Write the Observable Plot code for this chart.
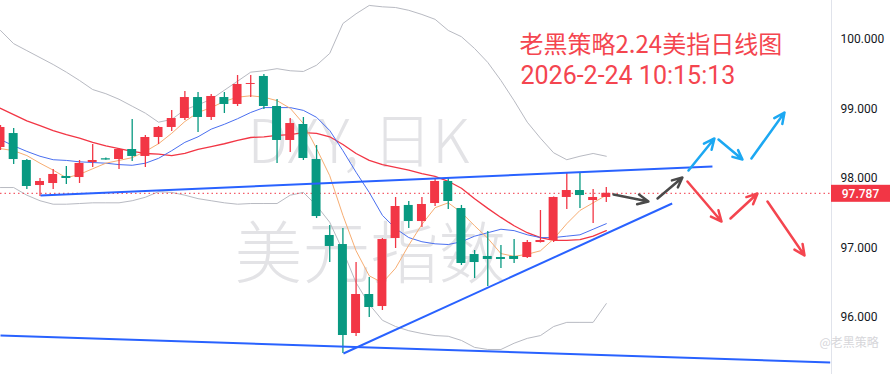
<!DOCTYPE html>
<html><head><meta charset="utf-8">
<script src="https://cdn.jsdelivr.net/npm/d3@7"></script>
<script src="https://cdn.jsdelivr.net/npm/@observablehq/plot@0.6"></script>
<style>body{margin:0;background:#fff}#chart svg{display:block}</style>
</head><body><div id="chart"></div>
<script>
// ---- candle data (daily, index 0..46) ----
const opens  = [98.446,98.647,98.259,97.899,97.928,98.029,98.014,98.230,98.284,98.273,98.417,98.317,98.590,98.734,98.863,99.165,98.878,99.165,99.065,99.353,99.468,99.036,98.547,98.777,98.273,97.180,97.050,95.770,96.331,96.158,97.137,97.612,97.381,97.640,97.957,97.568,96.906,96.878,96.863,96.878,96.863,97.079,97.108,97.727,97.827,97.683,97.727];
const highs  = [98.763,98.719,98.273,98.000,98.129,98.173,98.259,98.489,98.295,98.432,98.849,98.619,98.748,98.978,99.252,99.237,99.209,99.237,99.482,99.482,99.496,99.137,98.863,98.878,98.475,97.324,97.281,96.791,96.576,97.137,97.727,97.669,97.727,97.986,98.000,97.612,96.964,97.237,97.036,97.122,97.108,97.540,97.734,98.072,98.072,97.842,97.871];
const lows   = [98.403,98.201,97.842,97.741,97.842,97.914,97.928,98.158,98.262,98.129,98.245,98.158,98.489,98.676,98.835,98.662,98.835,98.935,99.036,99.165,98.993,98.216,98.374,98.259,97.424,96.791,95.482,95.727,96.000,96.101,96.993,97.281,97.295,97.597,97.554,96.748,96.561,96.446,96.705,96.777,96.849,97.072,97.079,97.554,97.568,97.353,97.655];
const closes = [98.734,98.273,97.885,97.957,98.058,98.000,98.216,98.259,98.266,98.417,98.317,98.590,98.734,98.863,99.165,98.878,99.180,99.065,99.353,99.367,99.036,98.547,98.791,98.288,97.453,97.022,95.741,96.331,96.144,97.122,97.597,97.381,97.626,97.957,97.669,96.777,96.791,96.835,96.835,96.835,97.079,97.108,97.727,97.827,97.755,97.727,97.787];

// ---- indicator lines ----
const bollUpper = [100.13,99.94,99.84,99.74,99.64,99.53,99.41,99.28,99.22,99.14,99.04,98.94,98.81,98.85,98.99,99.06,99.14,99.27,99.40,99.53,99.55,99.58,99.55,99.54,99.63,99.80,100.23,100.37,100.49,100.47,100.46,100.42,100.36,100.29,100.13,100.04,99.87,99.67,99.41,99.12,98.81,98.58,98.37,98.27,98.32,98.36,98.32];
const bollLower = [97.87,97.87,97.76,97.68,97.63,97.63,97.64,97.65,97.65,97.65,97.68,97.73,97.81,97.80,97.76,97.71,97.68,97.65,97.63,97.64,97.64,97.64,97.76,97.80,97.61,97.37,96.96,96.50,96.19,95.96,95.87,95.81,95.77,95.74,95.73,95.67,95.57,95.54,95.54,95.63,95.70,95.74,95.87,95.93,95.93,95.93,96.20];
const maRed    = [99.01,98.92,98.83,98.76,98.69,98.63,98.58,98.52,98.47,98.43,98.39,98.36,98.35,98.33,98.36,98.42,98.46,98.50,98.55,98.59,98.60,98.62,98.63,98.66,98.65,98.60,98.49,98.36,98.26,98.20,98.16,98.12,98.07,98.03,97.96,97.86,97.71,97.57,97.44,97.32,97.22,97.15,97.11,97.11,97.12,97.17,97.25];
const maBlue   = [98.56,98.47,98.39,98.32,98.27,98.26,98.24,98.23,98.22,98.20,98.19,98.22,98.29,98.40,98.52,98.60,98.71,98.78,98.86,98.95,99.02,99.02,99.02,98.98,98.88,98.69,98.40,98.09,97.80,97.47,97.28,97.15,97.09,97.06,97.05,97.09,97.17,97.22,97.27,97.25,97.19,97.15,97.15,97.17,97.19,97.27,97.35];
const maOrange = [98.43,98.40,98.33,98.22,98.12,98.01,98.06,98.14,98.22,98.26,98.30,98.39,98.50,98.65,98.82,98.95,99.02,99.11,99.17,99.19,99.17,99.12,99.01,98.79,98.43,98.04,97.47,96.96,96.60,96.50,96.71,97.04,97.34,97.58,97.65,97.51,97.32,97.14,96.92,96.88,96.91,96.96,97.13,97.35,97.54,97.65,97.76];

// ---- drawn trend lines & arrows (x = candle index, y = price) ----
const trendLines = [
  {x1: 3.04, y1: 97.755, x2: 54.06, y2: 98.173},
  {x1: 26.04, y1: 95.482, x2: 51.0, y2: 97.640},
  {x1: 0, y1: 95.741, x2: 63.0, y2: 95.353}
];
const grayArrows = [
  {x1: 46.55, y1: 97.770, x2: 49.20, y2: 97.669},
  {x1: 49.89, y1: 97.712, x2: 51.78, y2: 98.014}
];
const blueArrows = [
  {x1: 52.24, y1: 98.115, x2: 54.21, y2: 98.576},
  {x1: 54.52, y1: 98.561, x2: 56.34, y2: 98.273},
  {x1: 57.02, y1: 98.288, x2: 59.53, y2: 98.950}
];
const redArrows = [
  {x1: 52.16, y1: 97.957, x2: 54.75, y2: 97.381},
  {x1: 55.43, y1: 97.424, x2: 57.48, y2: 97.784},
  {x1: 58.24, y1: 97.669, x2: 61.05, y2: 96.892}
];

// ---- texts / ticks ----
const yTicks = [96, 97, 98, 99, 100];
const titleLine1 = "老黑策略2.24美指日线图";
const titleLine2 = "2026-2-24 10:15:13";
const watermark1 = "DXY, 日K";
const watermark2 = "美元指数";
const signature = "@老黑策略";

const xMax = 63.1;
const yDomain = [95.180, 100.561];
const upColor = "#f23645", downColor = "#089981";

const candles = opens.map((o, i) => ({i, open: o, high: highs[i], low: lows[i], close: closes[i]}));
const up = candles.filter(d => d.close >= d.open);
const down = candles.filter(d => d.close < d.open);
const lastClose = closes[closes.length - 1];
const half = 0.34;

function priceTag(index, scales, values, dims) {
  const y = scales.y(lastClose);
  const x0 = dims.width - dims.marginRight;
  const g = d3.create("svg:g");
  g.append("rect").attr("x", x0).attr("y", y - 8).attr("width", dims.marginRight).attr("height", 17).attr("fill", upColor);
  g.append("text").attr("x", x0 + dims.marginRight / 2).attr("y", y + 0.5).attr("dy", "0.35em")
    .attr("text-anchor", "middle").attr("fill", "#fff").attr("font-size", 12).attr("font-weight", 500)
    .attr("font-family", "Roboto, sans-serif").text(lastClose.toFixed(3));
  return g.node();
}

const lineOpts = (stroke, w) => ({x: (d, i) => i, y: d => d, stroke, strokeWidth: w, clip: true});

const chart = Plot.plot({
  width: 890, height: 374,
  marginLeft: 0, marginRight: 59, marginTop: 0, marginBottom: 0,
  x: {domain: [0, xMax], axis: null},
  y: {domain: yDomain, axis: null},
  style: {fontFamily: "Roboto, sans-serif", fontSize: "12px", background: "#fff"},
  marks: [
    Plot.text([watermark1], {text: d => d, frameAnchor: "top-left", dx: 358, dy: 143, textAnchor: "middle", lineAnchor: "middle", fontSize: 60, fontWeight: 300, fill: "#e3e3e6", fontFamily: "Noto Sans CJK SC"}),
    Plot.text([watermark2], {text: d => d, frameAnchor: "top-left", dx: 370, dy: 256, textAnchor: "middle", lineAnchor: "middle", fontSize: 68, fontWeight: 300, fill: "#e3e3e6", fontFamily: "Noto Sans CJK SC"}),
    Plot.line(bollUpper, lineOpts("#b8bac2", 1)),
    Plot.line(bollLower, lineOpts("#b8bac2", 1)),
    Plot.line(maRed, lineOpts("#f23645", 1.3)),
    Plot.line(maBlue, lineOpts("#4a6ff0", 1)),
    Plot.line(maOrange, lineOpts("#f7ad72", 1)),
    Plot.ruleY([lastClose], {stroke: upColor, strokeWidth: 1, strokeDasharray: "1.5,3"}),
    Plot.ruleX(up, {x: "i", y1: "low", y2: "high", stroke: upColor, strokeWidth: 1.3, clip: true}),
    Plot.ruleX(down, {x: "i", y1: "low", y2: "high", stroke: downColor, strokeWidth: 1.3, clip: true}),
    Plot.rect(up, {x1: d => d.i - half, x2: d => d.i + half, y1: "open", y2: "close", fill: upColor, clip: true}),
    Plot.rect(down, {x1: d => d.i - half, x2: d => d.i + half, y1: "open", y2: "close", fill: downColor, clip: true}),
    Plot.link(trendLines, {x1: "x1", y1: "y1", x2: "x2", y2: "y2", stroke: "#2962ff", strokeWidth: 2}),
    Plot.arrow(grayArrows, {x1: "x1", y1: "y1", x2: "x2", y2: "y2", stroke: "#4a4a4a", strokeWidth: 2.5, headLength: 7, headAngle: 50}),
    Plot.arrow(blueArrows, {x1: "x1", y1: "y1", x2: "x2", y2: "y2", stroke: "#1ca8f2", strokeWidth: 2.5, headLength: 7, headAngle: 50}),
    Plot.arrow(redArrows, {x1: "x1", y1: "y1", x2: "x2", y2: "y2", stroke: "#f4454f", strokeWidth: 2.5, headLength: 7, headAngle: 50}),
    Plot.text([titleLine1], {text: d => d, frameAnchor: "top-left", dx: 519, dy: 45, textAnchor: "start", lineAnchor: "middle", fontSize: 24, fill: "#f4454f", fontFamily: "Noto Sans CJK SC"}),
    Plot.text([titleLine2], {text: d => d, frameAnchor: "top-left", dx: 520, dy: 75, textAnchor: "start", lineAnchor: "middle", fontSize: 25, fill: "#f4454f", fontFamily: "Roboto"}),
    Plot.ruleX([xMax], {stroke: "#e0e3eb"}),
    Plot.axisY(yTicks, {anchor: "right", tickSize: 0, tickPadding: 9, tickFormat: d => d.toFixed(3), fontSize: 12, fill: "#131722", label: null}),
    Plot.text([signature], {text: d => d, frameAnchor: "bottom-right", dx: -12, dy: -28, textAnchor: "start", fontSize: 12, fill: "#d6d6da", fontFamily: "Noto Sans CJK SC"}),
    priceTag
  ]
});
document.getElementById("chart").append(chart);
</script></body></html>
